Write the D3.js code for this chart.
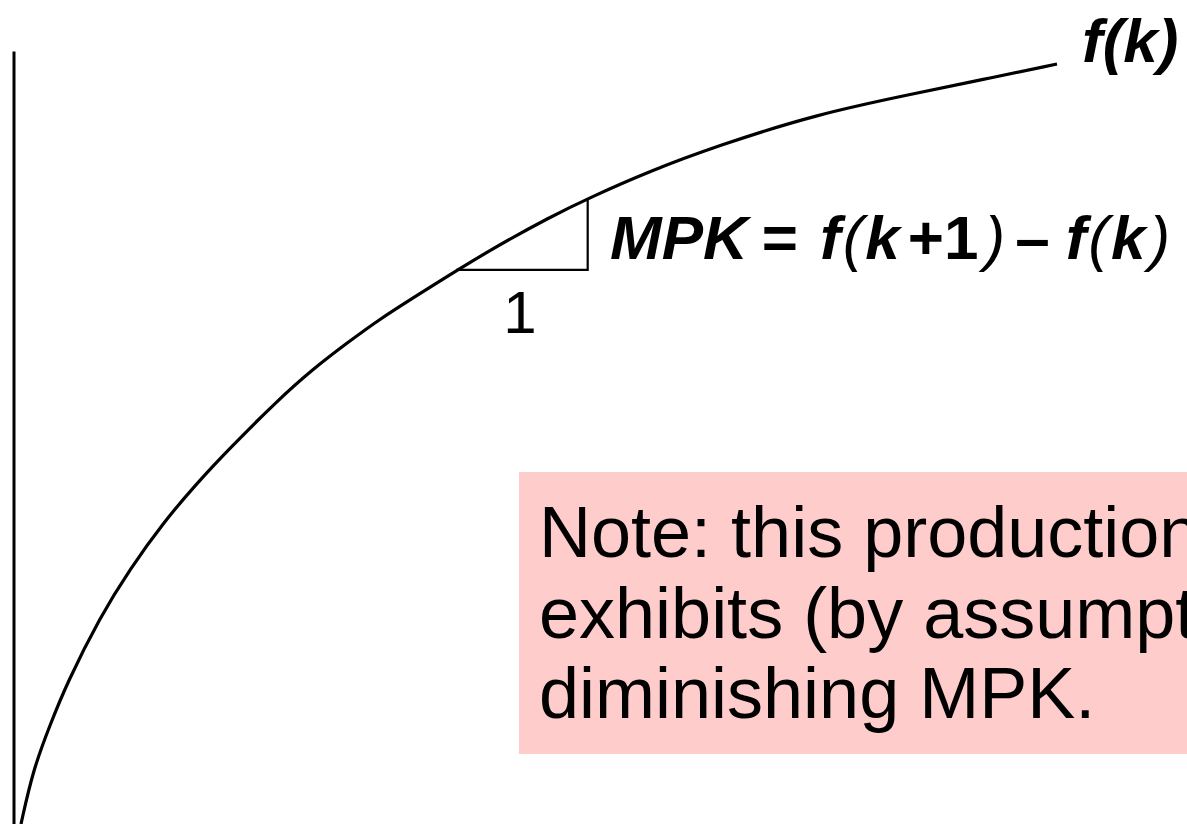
<!DOCTYPE html>
<html>
<head>
<meta charset="utf-8">
<script src="https://cdn.jsdelivr.net/npm/d3@7"></script>
<style>
  html, body { margin: 0; padding: 0; background: #fff; overflow: hidden; }
  svg { display: block; }
</style>
</head>
<body>
<script>
// Capital per worker (k) and output per worker f(k), in chart units
const kValues = [0, 1.16, 2.80, 4.44, 7.63, 10.52, 13.71, 16.99, 20.17, 24.81, 28.19,
                 31.47, 34.65, 37.84, 40.44, 45.27, 51.06, 54.92, 60.71, 67.18, 76.83,
                 86.49, 92.86, 100];
const fValues = [0, 7.11, 13.03, 18.55, 27.24, 33.55, 39.61, 44.87, 49.47, 55.79, 59.87,
                 63.29, 66.45, 69.21, 71.45, 75.53, 79.87, 82.43, 85.92, 89.21, 93.42,
                 96.18, 97.96, 100];

// One-unit step in k and the matching outputs f(k), f(k+1)
const stepK = [42.0, 54.7];
const stepF = [72.9, 82.1];

const curveLabel = "f(k)";
const stepLabel = "1";
const noteLines = ["Note: this production function", "exhibits (by assumption)", "diminishing MPK."];

const W = 1187, H = 824;
const svg = d3.select("body").append("svg").attr("width", W).attr("height", H);

const x = d3.scaleLinear().domain([0, 100]).range([21, 1057]);
const y = d3.scaleLinear().domain([0, 100]).range([824, 64]);
const yAxisScale = y.copy().domain([0, 101.7]).range([824, y(101.7)]);

const FONT = "'Liberation Sans', Arial, Helvetica, sans-serif";

// Vertical axis (no ticks)
const axis = svg.append("g")
  .attr("transform", "translate(13.5,0)")
  .call(d3.axisLeft(yAxisScale).tickValues([]).tickSizeOuter(0));
axis.select(".domain").attr("stroke", "#000").attr("stroke-width", 3);

// Production function
const data = kValues.map((k, i) => ({ k, f: fValues[i] }));
const line = d3.line().x(d => x(d.k)).y(d => y(d.f)).curve(d3.curveBasis);
svg.append("path")
  .datum(data)
  .attr("d", line)
  .attr("fill", "none")
  .attr("stroke", "#000")
  .attr("stroke-width", 3.2);

// Slope triangle
const tri = [[x(stepK[0]), y(stepF[0])], [x(stepK[1]), y(stepF[0])], [x(stepK[1]), y(stepF[1])]];
svg.append("path")
  .attr("d", d3.line()(tri))
  .attr("fill", "none")
  .attr("stroke", "#000")
  .attr("stroke-width", 2.2);

svg.append("text")
  .attr("x", (x(stepK[0]) + x(stepK[1])) / 2 - 2)
  .attr("y", y(stepF[0]) + 63)
  .attr("text-anchor", "middle")
  .attr("font-family", FONT)
  .attr("font-size", 60)
  .text(stepLabel);

// Curve label
svg.append("text")
  .attr("x", 1082)
  .attr("y", 62)
  .attr("font-family", FONT)
  .attr("font-size", 62)
  .attr("font-weight", "bold")
  .attr("font-style", "italic")
  .text(curveLabel);

// MPK formula
const parts = [
  { t: "MPK", w: "bold", s: "italic", dx: 0 },
  { t: "=", w: "bold", s: "normal", dx: 14 },
  { t: "f", w: "bold", s: "italic", dx: 22 },
  { t: "(", w: "normal", s: "italic", dx: 2 },
  { t: "k", w: "bold", s: "italic", dx: 2 },
  { t: "+1", w: "bold", s: "normal", dx: 8 },
  { t: ")", w: "normal", s: "italic", dx: 6 },
  { t: "\u2013", w: "bold", s: "normal", dx: 10 },
  { t: "f", w: "bold", s: "italic", dx: 16 },
  { t: "(", w: "normal", s: "italic", dx: 2 },
  { t: "k", w: "bold", s: "italic", dx: 2 },
  { t: ")", w: "normal", s: "italic", dx: 4 }
];
svg.append("text")
  .attr("x", 610)
  .attr("y", 259)
  .attr("font-family", FONT)
  .attr("font-size", 62)
  .selectAll("tspan")
  .data(parts)
  .join("tspan")
  .attr("dx", d => d.dx)
  .attr("font-weight", d => d.w)
  .attr("font-style", d => d.s)
  .text(d => d.t);

// Note box
svg.append("rect")
  .attr("x", 519).attr("y", 472)
  .attr("width", 700).attr("height", 282)
  .attr("fill", "#ffcccc");

svg.append("text")
  .attr("font-family", FONT)
  .attr("font-size", 72)
  .selectAll("tspan")
  .data(noteLines)
  .join("tspan")
  .attr("x", 539)
  .attr("y", (d, i) => 557 + i * 80.5)
  .text(d => d);
</script>
</body>
</html>
